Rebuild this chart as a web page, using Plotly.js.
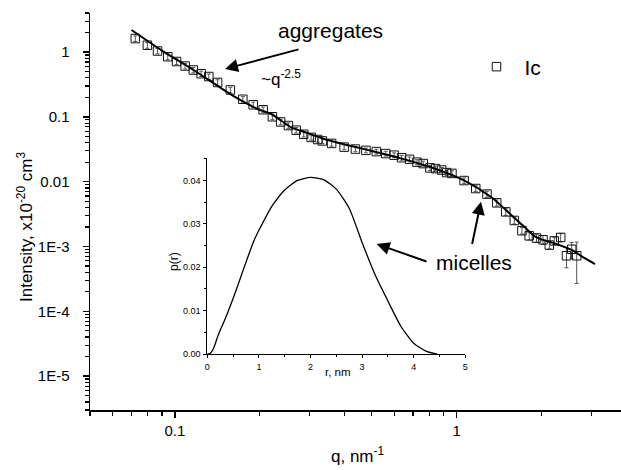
<!DOCTYPE html>
<html>
<head>
<meta charset="utf-8">
<script src="https://cdn.plot.ly/plotly-3.0.1.min.js"></script>
<style>html,body{margin:0;padding:0;background:#fff;}#chart{width:621px;height:470px;}</style>
</head>
<body>
<div id="chart"></div>
<script>
// Scattering data, series "Ic"
const q = [0.0724,0.0799,0.0868,0.0944,0.1014,0.1088,0.1163,0.1240,0.1320,0.1418,
  0.1574,0.1743,0.1897,0.2058,0.2219,0.2374,0.2529,0.2695,0.2866,0.3046,
  0.3212,0.3339,0.3600,0.3988,0.4373,0.4764,0.5188,0.5602,0.6000,0.6377,
  0.6805,0.7231,0.7611,0.8037,0.8424,0.8846,0.9215,0.9623,1.063,1.169,
  1.281,1.387,1.494,1.602,1.705,1.809,1.920,2.025,2.132,2.221,
  2.340,2.454,2.560,2.667];
const intensity = [1.614,1.273,1.036,0.846,0.714,0.608,0.528,0.463,0.419,0.339,
  0.260,0.1867,0.1536,0.1287,0.1003,0.0834,0.0734,0.0622,0.0539,0.0482,
  0.0447,0.0425,0.0389,0.0341,0.0318,0.0304,0.0291,0.0271,0.0256,0.0234,
  0.0221,0.0200,0.0190,0.0163,0.0159,0.0151,0.0138,0.0134,0.0104,0.00783,
  0.00642,0.00471,0.00342,0.00252,0.00175,0.00146,0.00135,0.00127,0.00105,0.00122,
  0.00138,0.000719,0.000905,0.000719];
const intensityErr = [0.16,0.13,0.10,0.085,0.07,0.06,0.05,0.045,0.04,0.034,
  0.026,0.018,0.015,0.013,0.010,0.008,0.007,0.006,0.005,0.0045,
  0.0042,0.004,0.0036,0.003,0.0028,0.0026,0.0025,0.0023,0.0022,0.002,
  0.0019,0.0018,0.0017,0.0015,0.0015,0.0014,0.0013,0.0013,0.001,0.0008,
  0.0007,0.0005,0.0004,0.0003,0.0002,0.0002,0.0002,0.0002,0.00013,0.00015,
  0.0002,0.00025,0.00025,0.00045];

// Fit curve
const qFit = [0.0702,0.0897,0.1165,0.1611,0.1976,0.2205,0.2596,0.2817,0.3407,0.4992,
  0.6204,0.8152,1.070,1.331,1.505,1.723,1.923,2.265,2.594,2.815,3.097];
const iFit = [2.183,1.062,0.528,0.2099,0.1310,0.1096,0.0682,0.0606,0.0452,0.0298,
  0.0235,0.0165,0.01029,0.00569,0.00355,0.00208,0.00138,0.00109,0.000859,0.000677,0.000536];

// Inset: pair distance distribution p(r)
const r = [0,0.05,0.1,0.15,0.2,0.25,0.3,0.4,0.5,0.6,0.7,0.8,0.9,1.0,1.1,1.25,1.5,1.75,2.0,
  2.25,2.5,2.75,3.0,3.25,3.5,3.75,4.0,4.25,4.45];
const pr = [0,0.0001,0.0008,0.0022,0.0040,0.0055,0.0068,0.0097,0.0128,0.0161,0.0195,0.0228,0.0260,0.0285,0.0308,0.0340,0.0378,0.0400,0.0407,
  0.0402,0.0380,0.0336,0.0257,0.0183,0.0122,0.0064,0.0025,0.0006,0];

// Tick labels
const xTickVals = [0.1, 1];
const xTickText = ['0.1', '1'];
const yTickVals = [1, 0.1, 0.01, 0.001, 0.0001, 0.00001];
const yTickText = ['1', '0.1', '0.01', '1E-3', '1E-4', '1E-5'];
const insetXTicks = [0, 1, 2, 3, 4, 5];
const insetYTicks = [0, 0.01, 0.02, 0.03, 0.04];

// minor tick positions (axis decoration)
const xMinor = [];
const yMinor = [];
[0.01, 0.1, 1].forEach(d => { for (let k = 2; k <= 9; k++) xMinor.push(k * d); });
[1e-6, 1e-5, 1e-4, 1e-3, 1e-2, 1e-1, 1].forEach(d => { for (let k = 2; k <= 9; k++) yMinor.push(k * d); });

const FONT = 'Liberation Sans, Arial, sans-serif';
const L = 90, R = 621, T = 13, B = 410;
const px = x => (x - L) / (R - L);
const py = y => (B - y) / (B - T);

const traces = [
  {
    x: q, y: intensity, type: 'scatter', mode: 'markers', name: 'Ic',
    marker: {symbol: 'square-open', size: 8.5, color: '#111', line: {width: 1, color: '#111'}},
    error_y: {type: 'data', array: intensityErr, visible: true, color: '#555', thickness: 1, width: 2},
    xaxis: 'x', yaxis: 'y', showlegend: true
  },
  {
    x: qFit, y: iFit, type: 'scatter', mode: 'lines', name: 'fit',
    line: {color: '#000', width: 2, shape: 'spline', smoothing: 0.8},
    xaxis: 'x', yaxis: 'y', showlegend: false
  },
  {
    x: r, y: pr, type: 'scatter', mode: 'lines', name: 'p(r)',
    line: {color: '#000', width: 1.3, shape: 'spline', smoothing: 0.6},
    xaxis: 'x2', yaxis: 'y2', showlegend: false
  }
];

const annText = (x, y, text, size) => ({
  xref: 'paper', yref: 'paper', x: px(x), y: py(y), text: text, showarrow: false,
  xanchor: 'center', yanchor: 'middle', font: {family: FONT, size: size, color: '#000'}
});
const annArrow = (hx, hy, tx, ty) => ({
  xref: 'paper', yref: 'paper', x: px(hx), y: py(hy), ax: tx - hx, ay: ty - hy, text: ' ',
  showarrow: true, arrowhead: 2, arrowsize: 1.3, arrowwidth: 2, arrowcolor: '#000',
  font: {size: 1}
});

const layout = {
  width: 621, height: 470,
  margin: {l: L, r: 621 - R, t: T, b: 470 - B, pad: 0},
  paper_bgcolor: '#fff', plot_bgcolor: 'rgba(0,0,0,0)',
  font: {family: FONT, color: '#000'},
  showlegend: true,
  legend: {x: px(468.5), y: py(67), xanchor: 'left', yanchor: 'middle', bgcolor: 'rgba(0,0,0,0)',
    font: {family: FONT, size: 21, color: '#000'}, itemwidth: 46},
  xaxis: {
    type: 'log', range: [Math.log10(0.05), Math.log10(3.83)], domain: [0, 1],
    tickmode: 'array', tickvals: xTickVals, ticktext: xTickText,
    ticks: 'outside', ticklen: 6, tickwidth: 1.5, tickcolor: '#000',
    showline: true, linecolor: '#000', linewidth: 1.5, showgrid: false, zeroline: false,
    tickfont: {family: FONT, size: 15, color: '#000'}, ticklabelstandoff: 0,
    minor: {tickmode: 'array', tickvals: xMinor, ticks: 'outside', ticklen: 4, tickwidth: 1.2, tickcolor: '#000', showgrid: false},
    anchor: 'y'
  },
  yaxis: {
    type: 'log', range: [Math.log10(3e-6), Math.log10(4)], domain: [0, 1],
    tickmode: 'array', tickvals: yTickVals, ticktext: yTickText,
    ticks: 'outside', ticklen: 6, tickwidth: 1.5, tickcolor: '#000',
    showline: true, linecolor: '#000', linewidth: 1.5, showgrid: false, zeroline: false,
    tickfont: {family: FONT, size: 15, color: '#000'}, ticklabelstandoff: 10,
    minor: {tickmode: 'array', tickvals: yMinor, ticks: 'outside', ticklen: 3.5, tickwidth: 1.2, tickcolor: '#000', showgrid: false},
    anchor: 'x'
  },
  xaxis2: {
    range: [0, 5], domain: [px(207.3), px(465.3)], anchor: 'y2',
    tickmode: 'array', tickvals: insetXTicks, ticks: 'outside', ticklen: 3, tickwidth: 1, tickcolor: '#000',
    showline: true, linecolor: '#000', linewidth: 1, showgrid: false, zeroline: false,
    tickfont: {family: FONT, size: 9, color: '#000'}, ticklabelstandoff: 1,
    minor: {dtick: 0.5, ticks: 'outside', ticklen: 2, tickwidth: 1, tickcolor: '#000', showgrid: false}
  },
  yaxis2: {
    range: [0, 0.0451], domain: [py(354), py(158.3)], anchor: 'x2',
    tickmode: 'array', tickvals: insetYTicks, tickformat: '.2f', ticks: 'outside', ticklen: 3, tickwidth: 1, tickcolor: '#000',
    showline: true, linecolor: '#000', linewidth: 1, showgrid: false, zeroline: false,
    tickfont: {family: FONT, size: 9, color: '#000'}, ticklabelstandoff: 1,
    minor: {dtick: 0.005, ticks: 'outside', ticklen: 2, tickwidth: 1, tickcolor: '#000', showgrid: false}
  },
  annotations: [
    Object.assign(annText(25, 227, 'Intensity, x10<sup>-20</sup> cm<sup>3</sup>', 17), {textangle: -90}),
    annText(357, 455, 'q, nm<sup>-1</sup>', 17),
    Object.assign(annText(174, 262, 'p(r)', 12), {textangle: -90}),
    annText(338, 372, 'r, nm', 11.5),
    annText(330, 30, 'aggregates', 21),
    annText(281, 78, '~q<sup>-2.5</sup>', 17),
    annText(474, 262, 'micelles', 21),
    annArrow(225, 69, 300, 49),
    annArrow(376.7, 244, 428, 262),
    annArrow(481, 201.7, 471.7, 246)
  ]
};

Plotly.newPlot('chart', traces, layout, {displayModeBar: false, staticPlot: true});
</script>
</body>
</html>
